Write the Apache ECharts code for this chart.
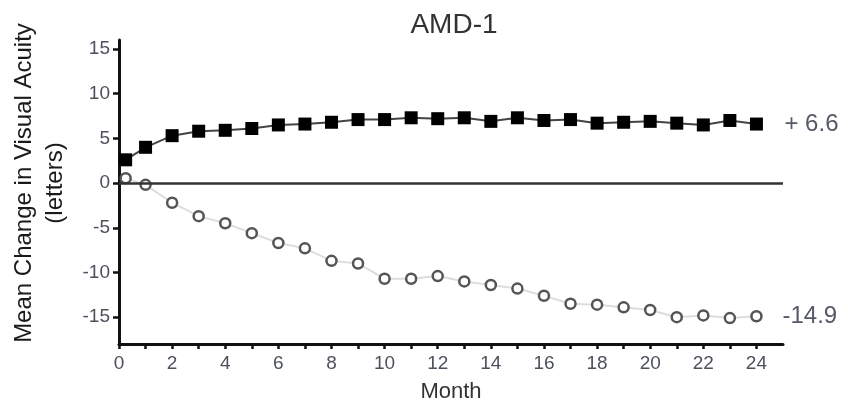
<!DOCTYPE html>
<html>
<head>
<meta charset="utf-8">
<script src="https://cdn.jsdelivr.net/npm/echarts@6/dist/echarts.min.js"></script>
<style>html,body{margin:0;padding:0;background:#fff}#c{width:848px;height:407px}</style>
</head>
<body>
<div id="c"></div>
<script>
var titleText = 'AMD-1';
var xName = 'Month';
var yName = 'Mean Change in Visual Acuity\n(letters)';
var months = [0.25, 1, 2, 3, 4, 5, 6, 7, 8, 9, 10, 11, 12, 13, 14, 15, 16, 17, 18, 19, 20, 21, 22, 23, 24];
var treated = [2.6, 4.0, 5.3, 5.8, 5.9, 6.1, 6.5, 6.6, 6.8, 7.1, 7.1, 7.3, 7.2, 7.3, 6.9, 7.3, 7.0, 7.1, 6.7, 6.8, 6.9, 6.7, 6.5, 7.0, 6.6];
var control = [0.55, -0.2, -2.2, -3.7, -4.5, -5.6, -6.7, -7.3, -8.7, -9.0, -10.7, -10.7, -10.4, -11.0, -11.4, -11.8, -12.6, -13.5, -13.6, -13.9, -14.2, -15.0, -14.8, -15.1, -14.9];
var endLabels = ['+ 6.6', '-14.9'];
var xTicks = [0, 1, 2, 3, 4, 5, 6, 7, 8, 9, 10, 11, 12, 13, 14, 15, 16, 17, 18, 19, 20, 21, 22, 23, 24];
var xTickLabels = [0, 2, 4, 6, 8, 10, 12, 14, 16, 18, 20, 22, 24];
var yTickLabels = [-15, -10, -5, 0, 5, 10, 15];

function pairs(xs, ys) { return xs.map(function (x, i) { return [x, ys[i]]; }); }

var FONT = 'Liberation Sans, Arial, Helvetica, sans-serif';
var chart = echarts.init(document.getElementById('c'));
chart.setOption({
  animation: false,
  backgroundColor: '#fff',
  title: {
    text: titleText, left: 449, textAlign: 'center', top: 6,
    textStyle: { fontFamily: FONT, fontSize: 28, fontWeight: 'normal', color: '#333' }
  },
  grid: { left: 119, right: 65, top: 40, bottom: 63, containLabel: false, outerBoundsMode: 'none' },
  xAxis: {
    type: 'value', min: 0, max: 25,
    name: xName, nameLocation: 'middle', nameGap: 37,
    nameTextStyle: { fontFamily: FONT, fontSize: 22, color: '#333' },
    axisLine: { onZero: false, lineStyle: { color: '#111', width: 3 } },
    axisTick: { show: true, customValues: xTicks, length: 5, lineStyle: { color: '#111', width: 2.5 } },
    axisLabel: { customValues: xTickLabels, margin: 10, fontFamily: FONT, fontSize: 19, color: '#4d515c' },
    splitLine: { show: false }
  },
  yAxis: {
    type: 'value', min: -18, max: 16,
    name: yName, nameLocation: 'middle', nameGap: 48,
    nameTextStyle: { fontFamily: FONT, fontSize: 24, color: '#1a1a1a', lineHeight: 31, padding: [0, 0, 0, 18] },
    axisLine: { onZero: false, lineStyle: { color: '#111', width: 3 } },
    axisTick: { show: true, customValues: yTickLabels, length: 6, lineStyle: { color: '#111', width: 2.5 } },
    axisLabel: { customValues: yTickLabels, margin: 9, fontFamily: FONT, fontSize: 19, color: '#4d515c' },
    splitLine: { show: false }
  },
  series: [
    {
      type: 'line', name: 'treated',
      data: pairs(months, treated),
      symbol: 'rect', symbolSize: 13,
      itemStyle: { color: '#000' },
      lineStyle: { color: '#444', width: 2 },
      endLabel: { show: true, formatter: function () { return endLabels[0]; }, distance: 28,
        fontFamily: FONT, fontSize: 24, color: '#555a66' },
      markLine: {
        silent: true, symbol: ['none', 'none'], label: { show: false },
        lineStyle: { color: '#333', width: 2.5, type: 'solid' },
        data: [{ yAxis: 0 }]
      },
      z: 3
    },
    {
      type: 'line', name: 'control',
      data: pairs(months, control),
      symbol: 'circle', symbolSize: 10,
      itemStyle: { color: '#fff', borderColor: '#555', borderWidth: 2.5 },
      lineStyle: { color: '#ddd', width: 2 },
      endLabel: { show: true, formatter: function () { return endLabels[1]; }, distance: 26,
        fontFamily: FONT, fontSize: 24, color: '#555a66' },
      z: 4
    }
  ]
});
</script>
</body>
</html>
